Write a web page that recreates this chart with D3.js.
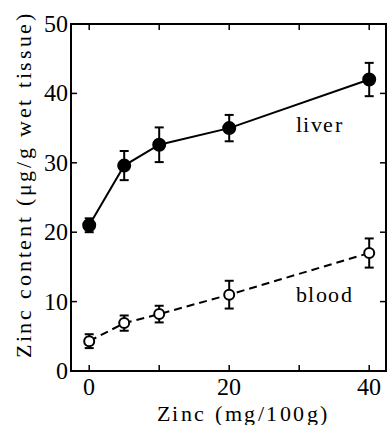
<!DOCTYPE html>
<html>
<head>
<meta charset="utf-8">
<script src="https://cdn.jsdelivr.net/npm/d3@7"></script>
<style>
  @font-face { font-family: "ChartSerif"; src: local("Liberation Serif"), local("LiberationSerif"); }
  #chart text { font-family: "ChartSerif", "Liberation Serif", serif; }
</style>
</head>
<body style="margin:0">
<svg id="chart" width="388" height="425" font-family="Liberation Serif"></svg>
<script>
// zinc in diet (mg/100g)
var doses = [0, 5, 10, 20, 40];

var liverMean = [21.0, 29.6, 32.6, 35.0, 42.0];
var liverErr  = [1.0, 2.1, 2.5, 1.9, 2.4];

var bloodMean = [4.3, 6.9, 8.2, 11.0, 17.0];
var bloodErr  = [1.0, 1.1, 1.2, 2.0, 2.1];

var xTicks = [0, 20, 40];
var xMinor = [0, 10, 20, 30, 40];
var yTicks = [0, 10, 20, 30, 40, 50];

var margin = {left: 71, top: 24, right: 2, bottom: 54};
var width = 388 - margin.left - margin.right;
var height = 425 - margin.top - margin.bottom;

var svg = d3.select("#chart");
var g = svg.append("g").attr("transform", "translate(" + margin.left + "," + margin.top + ")");

var x = d3.scaleLinear().domain([-2.6, 42.4]).range([0, width]);
var y = d3.scaleLinear().domain([0, 50]).range([height, 0]);

// inward ticks on all four sides
var tickLen = 6;
g.selectAll(null).data(xMinor).enter().append("line")
  .attr("x1", d => x(d)).attr("x2", d => x(d))
  .attr("y1", height).attr("y2", height - tickLen)
  .attr("stroke", "#000").attr("stroke-width", 1.5);
g.selectAll(null).data(xMinor).enter().append("line")
  .attr("x1", d => x(d)).attr("x2", d => x(d))
  .attr("y1", 0).attr("y2", tickLen)
  .attr("stroke", "#000").attr("stroke-width", 1.5);
g.selectAll(null).data(yTicks).enter().append("line")
  .attr("x1", 0).attr("x2", tickLen)
  .attr("y1", d => y(d)).attr("y2", d => y(d))
  .attr("stroke", "#000").attr("stroke-width", 1.5);
g.selectAll(null).data(yTicks).enter().append("line")
  .attr("x1", width).attr("x2", width - tickLen)
  .attr("y1", d => y(d)).attr("y2", d => y(d))
  .attr("stroke", "#000").attr("stroke-width", 1.5);

// frame
g.append("rect").attr("x", 0).attr("y", 0).attr("width", width).attr("height", height)
  .attr("fill", "none").attr("stroke", "#000").attr("stroke-width", 2);

// tick labels
g.selectAll(null).data(xTicks).enter().append("text")
  .attr("x", d => x(d)).attr("y", height + 24)
  .attr("text-anchor", "middle").attr("font-size", 24)
  .text(d => d);
g.selectAll(null).data(yTicks).enter().append("text")
  .attr("x", -3).attr("y", d => y(d) + 8)
  .attr("text-anchor", "end").attr("font-size", 24)
  .text(d => d);

// axis titles
svg.append("text")
  .attr("x", 242).attr("y", 421)
  .attr("text-anchor", "middle").attr("font-size", 22)
  .attr("textLength", 170).attr("lengthAdjust", "spacing")
  .text("Zinc (mg/100g)");

svg.append("text")
  .attr("transform", "translate(31,186) rotate(-90)")
  .attr("text-anchor", "middle").attr("font-size", 22)
  .attr("textLength", 344).attr("lengthAdjust", "spacing")
  .text("Zinc content (\u03bcg/g wet tissue)");

function drawSeries(mean, err, filled, dashed) {
  var pts = doses.map((d, i) => ({x: d, m: mean[i], e: err[i]}));
  var line = d3.line().x(d => x(d.x)).y(d => y(d.m));
  g.append("path").datum(pts).attr("d", line)
    .attr("fill", "none").attr("stroke", "#000").attr("stroke-width", 2)
    .attr("stroke-dasharray", dashed ? "8,5" : null);

  var eb = g.selectAll(null).data(pts).enter().append("g");
  eb.append("line")
    .attr("x1", d => x(d.x)).attr("x2", d => x(d.x))
    .attr("y1", d => y(d.m - d.e)).attr("y2", d => y(d.m + d.e))
    .attr("stroke", "#000").attr("stroke-width", 2);
  [-1, 1].forEach(function(s) {
    eb.append("line")
      .attr("x1", d => x(d.x) - 4.5).attr("x2", d => x(d.x) + 4.5)
      .attr("y1", d => y(d.m + s * d.e)).attr("y2", d => y(d.m + s * d.e))
      .attr("stroke", "#000").attr("stroke-width", 2);
  });
  eb.append("circle")
    .attr("cx", d => x(d.x)).attr("cy", d => y(d.m))
    .attr("r", filled ? 6 : 5)
    .attr("fill", filled ? "#000" : "#fff")
    .attr("stroke", "#000").attr("stroke-width", 2);
}

drawSeries(liverMean, liverErr, true, false);
drawSeries(bloodMean, bloodErr, false, true);

// series labels
g.append("text").attr("x", x(29.5)).attr("y", y(34.5))
  .attr("font-size", 22).attr("letter-spacing", 1.5).text("liver");
g.append("text").attr("x", x(29.5)).attr("y", y(10))
  .attr("font-size", 22).attr("letter-spacing", 1.5).text("blood");
</script>
</body>
</html>
